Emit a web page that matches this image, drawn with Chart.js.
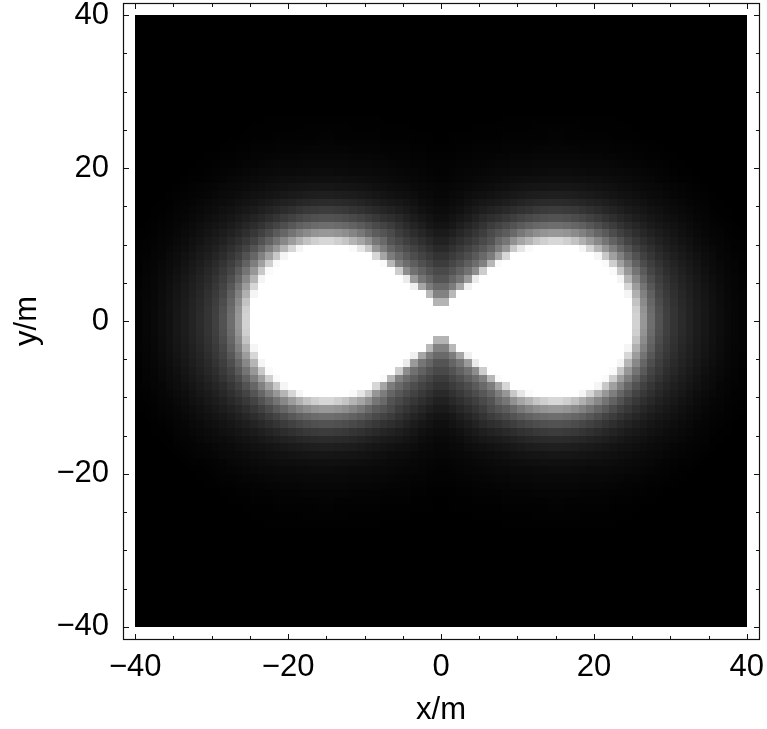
<!DOCTYPE html>
<html>
<head>
<meta charset="utf-8">
<script src="https://cdn.jsdelivr.net/npm/chart.js@4.4.1/dist/chart.umd.min.js"></script>
<style>
  html, body { margin: 0; padding: 0; background: #fff; }
  canvas { display: block; }
</style>
</head>
<body>
<canvas id="densityChart" width="767" height="729"></canvas>
<script>
// cell centres in metres (1 m cells)
const xCenters = [-39.5,-38.5,-37.5,-36.5,-35.5,-34.5,-33.5,-32.5,-31.5,-30.5,-29.5,-28.5,-27.5,-26.5,-25.5,-24.5,-23.5,-22.5,-21.5,-20.5,
                  -19.5,-18.5,-17.5,-16.5,-15.5,-14.5,-13.5,-12.5,-11.5,-10.5,-9.5,-8.5,-7.5,-6.5,-5.5,-4.5,-3.5,-2.5,-1.5,-0.5,
                  0.5,1.5,2.5,3.5,4.5,5.5,6.5,7.5,8.5,9.5,10.5,11.5,12.5,13.5,14.5,15.5,16.5,17.5,18.5,19.5,
                  20.5,21.5,22.5,23.5,24.5,25.5,26.5,27.5,28.5,29.5,30.5,31.5,32.5,33.5,34.5,35.5,36.5,37.5,38.5,39.5];
const yCenters = [39.5,38.5,37.5,36.5,35.5,34.5,33.5,32.5,31.5,30.5,29.5,28.5,27.5,26.5,25.5,24.5,23.5,22.5,21.5,20.5,
                  19.5,18.5,17.5,16.5,15.5,14.5,13.5,12.5,11.5,10.5,9.5,8.5,7.5,6.5,5.5,4.5,3.5,2.5,1.5,0.5,
                  -0.5,-1.5,-2.5,-3.5,-4.5,-5.5,-6.5,-7.5,-8.5,-9.5,-10.5,-11.5,-12.5,-13.5,-14.5,-15.5,-16.5,-17.5,-18.5,-19.5,
                  -20.5,-21.5,-22.5,-23.5,-24.5,-25.5,-26.5,-27.5,-28.5,-29.5,-30.5,-31.5,-32.5,-33.5,-34.5,-35.5,-36.5,-37.5,-38.5,-39.5];
const cellSize = 1;

// grey level of every cell, 0 = black .. 255 = white; one row per yCenters entry
const intensity = [
[0,0,0,0,0,0,0,0,0,0,0,0,0,0,0,0,0,0,0,0,0,0,0,0,0,0,0,0,0,0,0,0,0,0,0,0,0,0,0,0,0,0,0,0,0,0,0,0,0,0,0,0,0,0,0,0,0,0,0,0,0,0,0,0,0,0,0,0,0,0,0,0,0,0,0,0,0,0,0,0],
[0,0,0,0,0,0,0,0,0,0,0,0,0,0,0,0,0,0,0,0,0,0,0,0,0,0,0,0,0,0,0,0,0,0,0,0,0,0,0,0,0,0,0,0,0,0,0,0,0,0,0,0,0,0,0,0,0,0,0,0,0,0,0,0,0,0,0,0,0,0,0,0,0,0,0,0,0,0,0,0],
[0,0,0,0,0,0,0,0,0,0,0,0,0,0,0,0,0,0,0,0,0,0,0,0,0,0,0,0,0,0,0,0,0,0,0,0,0,0,0,0,0,0,0,0,0,0,0,0,0,0,0,0,0,0,0,0,0,0,0,0,0,0,0,0,0,0,0,0,0,0,0,0,0,0,0,0,0,0,0,0],
[0,0,0,0,0,0,0,0,0,0,0,0,0,0,0,0,0,0,0,0,0,0,0,0,0,0,0,0,0,0,0,0,0,0,0,0,0,0,0,0,0,0,0,0,0,0,0,0,0,0,0,0,0,0,0,0,0,0,0,0,0,0,0,0,0,0,0,0,0,0,0,0,0,0,0,0,0,0,0,0],
[0,0,0,0,0,0,0,0,0,0,0,0,0,0,0,0,0,0,0,0,0,0,0,0,0,0,0,0,0,0,0,0,0,0,0,0,0,0,0,0,0,0,0,0,0,0,0,0,0,0,0,0,0,0,0,0,0,0,0,0,0,0,0,0,0,0,0,0,0,0,0,0,0,0,0,0,0,0,0,0],
[0,0,0,0,0,0,0,0,0,0,0,0,0,0,0,0,0,0,0,0,0,0,0,0,0,0,0,0,0,0,0,0,0,0,0,0,0,0,0,0,0,0,0,0,0,0,0,0,0,0,0,0,0,0,0,0,0,0,0,0,0,0,0,0,0,0,0,0,0,0,0,0,0,0,0,0,0,0,0,0],
[0,0,0,0,0,0,0,0,0,0,0,0,0,0,0,0,0,0,0,0,0,0,0,0,0,0,0,0,0,0,0,0,0,0,0,0,0,0,0,0,0,0,0,0,0,0,0,0,0,0,0,0,0,0,0,0,0,0,0,0,0,0,0,0,0,0,0,0,0,0,0,0,0,0,0,0,0,0,0,0],
[0,0,0,0,0,0,0,0,0,0,0,0,0,0,0,0,0,0,0,0,0,0,0,0,0,0,0,0,0,0,0,0,0,0,0,0,0,0,0,0,0,0,0,0,0,0,0,0,0,0,0,0,0,0,0,0,0,0,0,0,0,0,0,0,0,0,0,0,0,0,0,0,0,0,0,0,0,0,0,0],
[0,0,0,0,0,0,0,0,0,0,0,0,0,0,0,0,0,0,0,0,0,0,0,0,0,0,0,0,0,0,0,0,0,0,0,0,0,0,0,0,0,0,0,0,0,0,0,0,0,0,0,0,0,0,0,0,0,0,0,0,0,0,0,0,0,0,0,0,0,0,0,0,0,0,0,0,0,0,0,0],
[0,0,0,0,0,0,0,0,0,0,0,0,0,0,0,0,0,0,0,0,0,0,0,0,0,0,0,0,0,0,0,0,0,0,0,0,0,0,0,0,0,0,0,0,0,0,0,0,0,0,0,0,0,0,0,0,0,0,0,0,0,0,0,0,0,0,0,0,0,0,0,0,0,0,0,0,0,0,0,0],
[0,0,0,0,0,0,0,0,0,0,0,0,0,0,0,0,0,0,0,0,0,0,0,0,0,0,0,0,0,0,0,0,0,0,0,0,0,0,0,0,0,0,0,0,0,0,0,0,0,0,0,0,0,0,0,0,0,0,0,0,0,0,0,0,0,0,0,0,0,0,0,0,0,0,0,0,0,0,0,0],
[0,0,0,0,0,0,0,0,0,0,0,0,0,0,0,0,0,0,0,0,0,0,0,0,0,0,0,0,0,0,0,0,0,0,0,0,0,0,0,0,0,0,0,0,0,0,0,0,0,0,0,0,0,0,0,0,0,0,0,0,0,0,0,0,0,0,0,0,0,0,0,0,0,0,0,0,0,0,0,0],
[0,0,0,0,0,0,0,0,0,0,0,0,0,0,0,0,0,0,0,0,0,0,0,0,0,0,0,0,0,0,0,0,0,0,0,0,0,0,0,0,0,0,0,0,0,0,0,0,0,0,0,0,0,0,0,0,0,0,0,0,0,0,0,0,0,0,0,0,0,0,0,0,0,0,0,0,0,0,0,0],
[0,0,0,0,0,0,0,0,0,0,0,0,0,0,0,0,0,1,1,1,1,1,1,1,1,1,1,1,1,1,1,1,0,0,0,0,0,0,0,0,0,0,0,0,0,0,0,0,1,1,1,1,1,1,1,1,1,1,1,1,1,1,1,0,0,0,0,0,0,0,0,0,0,0,0,0,0,0,0,0],
[0,0,0,0,0,0,0,0,0,0,0,0,0,0,0,1,1,1,1,1,1,1,2,2,2,2,2,2,1,1,1,1,1,1,1,1,0,0,0,0,0,0,0,0,1,1,1,1,1,1,1,1,2,2,2,2,2,2,1,1,1,1,1,1,1,0,0,0,0,0,0,0,0,0,0,0,0,0,0,0],
[0,0,0,0,0,0,0,0,0,0,0,0,0,0,1,1,1,1,2,2,2,2,2,2,3,3,2,2,2,2,2,2,1,1,1,1,1,1,1,0,0,1,1,1,1,1,1,1,2,2,2,2,2,2,3,3,2,2,2,2,2,2,1,1,1,1,0,0,0,0,0,0,0,0,0,0,0,0,0,0],
[0,0,0,0,0,0,0,0,0,0,0,0,1,1,1,2,2,2,3,3,3,3,3,3,4,4,3,3,3,3,3,3,2,2,2,2,1,1,1,0,0,1,1,1,2,2,2,2,3,3,3,3,3,3,4,4,3,3,3,3,3,3,2,2,2,1,1,1,0,0,0,0,0,0,0,0,0,0,0,0],
[0,0,0,0,0,0,0,0,0,0,0,1,1,2,2,3,3,3,4,4,4,4,5,5,5,5,5,5,4,4,4,4,3,3,3,3,2,2,1,1,1,1,2,2,3,3,3,3,4,4,4,4,5,5,5,5,5,5,4,4,4,4,3,3,3,2,2,1,1,0,0,0,0,0,0,0,0,0,0,0],
[0,0,0,0,0,0,0,0,0,1,1,2,2,3,3,4,4,5,5,6,6,6,7,7,7,7,7,7,6,6,6,5,5,4,4,4,3,3,2,2,2,2,3,3,4,4,4,5,5,6,6,6,7,7,7,7,7,7,6,6,6,5,5,4,4,3,3,2,2,1,1,0,0,0,0,0,0,0,0,0],
[0,0,0,0,0,0,0,0,1,1,2,3,3,4,5,5,6,7,8,8,8,8,9,9,9,9,9,9,8,8,8,7,7,6,5,5,4,4,3,3,3,3,4,4,5,5,6,7,7,8,8,8,9,9,9,9,9,9,8,8,8,8,7,6,5,5,4,3,3,2,1,1,0,0,0,0,0,0,0,0],
[0,0,0,0,0,0,0,1,1,2,3,4,5,6,7,8,9,9,10,10,10,11,11,12,12,12,11,11,10,10,10,9,9,8,7,6,6,5,4,3,3,4,5,6,6,7,8,9,9,10,10,10,11,11,12,12,12,11,11,10,10,10,9,9,8,7,6,5,4,3,2,1,1,0,0,0,0,0,0,0],
[0,0,0,0,0,0,1,2,2,3,4,5,7,8,9,10,11,12,13,14,14,15,15,16,16,16,16,15,15,14,13,12,11,10,9,8,7,6,5,4,4,5,6,7,8,9,10,11,12,13,14,15,15,16,16,16,16,15,15,14,14,13,12,11,10,9,8,7,5,4,3,2,2,1,0,0,0,0,0,0],
[0,0,0,0,0,1,2,3,4,5,6,8,9,10,11,13,14,16,17,18,19,20,21,22,22,22,21,21,20,19,18,16,15,13,12,11,9,8,7,6,6,7,8,9,11,12,13,15,16,18,19,20,21,21,22,22,22,21,20,19,18,17,16,14,13,11,10,9,8,6,5,4,3,2,1,0,0,0,0,0],
[0,0,0,0,1,2,3,4,5,6,8,10,11,13,15,17,18,20,22,24,26,27,29,30,31,31,30,29,28,26,24,22,20,18,16,15,13,10,9,7,7,9,10,13,15,16,18,20,22,24,26,28,29,30,31,31,30,29,27,26,24,22,20,18,17,15,13,11,10,8,6,5,4,3,2,1,0,0,0,0],
[0,0,0,1,1,3,4,5,7,9,11,12,14,17,19,21,24,27,30,33,35,38,40,42,43,43,42,41,39,36,33,30,27,25,23,20,17,13,11,9,9,11,13,17,20,23,25,27,30,33,36,39,41,42,43,43,42,40,38,35,33,30,27,24,21,19,17,14,12,11,9,7,5,4,3,1,1,0,0,0],
[0,0,1,1,2,4,5,7,9,11,13,16,18,21,24,27,31,35,39,44,48,52,56,58,60,60,58,56,52,49,45,41,37,34,30,26,22,17,14,12,12,14,17,22,26,30,34,37,41,45,49,52,56,58,60,60,58,56,52,48,44,39,35,31,27,24,21,18,16,13,11,9,7,5,4,2,1,1,0,0],
[0,0,1,2,3,5,6,9,11,14,16,19,22,26,30,35,40,46,52,59,65,71,76,80,82,82,80,77,73,68,62,56,50,46,41,34,28,23,19,15,15,19,23,28,34,41,46,50,56,62,68,73,77,80,82,82,80,76,71,65,59,52,46,40,35,30,26,22,19,16,14,11,9,6,5,3,2,1,0,0],
[0,1,2,3,4,6,8,11,14,17,20,23,27,32,38,44,51,60,68,78,87,96,102,107,110,110,107,104,98,91,83,74,67,60,51,43,36,30,23,20,20,23,30,36,43,51,60,67,74,83,91,98,104,107,110,110,107,102,96,87,78,68,60,51,44,38,32,27,23,20,17,14,11,8,6,4,3,2,1,0],
[1,1,2,4,5,7,10,13,16,20,24,28,33,39,46,55,64,76,90,102,116,129,139,148,152,152,148,142,132,120,105,92,84,74,61,53,45,38,31,26,26,31,38,45,53,61,74,84,92,105,120,132,142,148,152,152,148,139,129,116,102,90,76,64,55,46,39,33,28,24,20,16,13,10,7,5,4,2,1,1],
[1,2,3,5,6,9,12,16,19,24,28,33,40,47,56,67,82,98,116,136,156,176,194,207,215,215,207,197,180,165,145,118,105,83,73,63,55,47,40,33,33,40,47,55,63,73,83,105,118,145,165,180,197,207,215,215,207,194,176,156,136,116,98,82,67,56,47,40,33,28,24,19,16,12,9,6,5,3,2,1],
[1,2,4,6,8,11,14,18,23,27,32,39,47,56,67,84,102,126,151,181,214,245,255,255,255,255,255,255,250,230,200,150,125,101,87,76,66,57,49,41,41,49,57,66,76,87,101,125,150,200,230,250,255,255,255,255,255,255,245,214,181,151,126,102,84,67,56,47,39,32,27,23,18,14,11,8,6,4,2,1],
[2,3,5,6,10,13,17,21,26,31,37,44,54,65,82,102,129,160,200,245,255,255,255,255,255,255,255,255,255,255,255,215,165,124,105,90,77,67,59,51,51,59,67,77,90,105,124,165,215,255,255,255,255,255,255,255,255,255,255,255,245,200,160,129,102,82,65,54,44,37,31,26,21,17,13,10,6,5,3,2],
[2,4,5,8,11,14,19,24,29,35,42,51,62,76,98,126,160,207,250,255,255,255,255,255,255,255,255,255,255,255,255,255,250,183,129,109,94,80,70,60,60,70,80,94,109,129,183,250,255,255,255,255,255,255,255,255,255,255,255,255,255,250,207,160,126,98,76,62,51,42,35,29,24,19,14,11,8,5,4,2],
[2,4,6,9,12,16,21,26,32,39,46,57,69,90,116,151,200,250,255,255,255,255,255,255,255,255,255,255,255,255,255,255,255,255,205,141,113,97,83,73,73,83,97,113,141,205,255,255,255,255,255,255,255,255,255,255,255,255,255,255,255,255,250,200,151,116,90,69,57,46,39,32,26,21,16,12,9,6,4,2],
[3,5,7,10,14,18,23,29,35,42,51,62,78,102,136,181,245,255,255,255,255,255,255,255,255,255,255,255,255,255,255,255,255,255,255,235,154,118,101,84,84,101,118,154,235,255,255,255,255,255,255,255,255,255,255,255,255,255,255,255,255,255,255,245,181,136,102,78,62,51,42,35,29,23,18,14,10,7,5,3],
[3,5,7,11,15,20,25,31,37,45,55,67,87,116,156,214,255,255,255,255,255,255,255,255,255,255,255,255,255,255,255,255,255,255,255,255,240,166,124,105,105,124,166,240,255,255,255,255,255,255,255,255,255,255,255,255,255,255,255,255,255,255,255,255,214,156,116,87,67,55,45,37,31,25,20,15,11,7,5,3],
[4,5,8,12,16,21,26,32,39,48,58,71,96,129,176,245,255,255,255,255,255,255,255,255,255,255,255,255,255,255,255,255,255,255,255,255,255,255,185,130,130,185,255,255,255,255,255,255,255,255,255,255,255,255,255,255,255,255,255,255,255,255,255,255,245,176,129,96,71,58,48,39,32,26,21,16,12,8,5,4],
[4,6,8,12,17,22,27,34,41,50,61,76,102,139,195,255,255,255,255,255,255,255,255,255,255,255,255,255,255,255,255,255,255,255,255,255,255,255,255,180,180,255,255,255,255,255,255,255,255,255,255,255,255,255,255,255,255,255,255,255,255,255,255,255,255,195,139,102,76,61,50,41,34,27,22,17,12,8,6,4],
[4,6,9,13,17,23,28,35,42,52,63,80,107,147,207,255,255,255,255,255,255,255,255,255,255,255,255,255,255,255,255,255,255,255,255,255,255,255,255,255,255,255,255,255,255,255,255,255,255,255,255,255,255,255,255,255,255,255,255,255,255,255,255,255,255,207,147,107,80,63,52,42,35,28,23,17,13,9,6,4],
[4,6,9,13,17,23,28,35,43,52,64,82,110,151,210,255,255,255,255,255,255,255,255,255,255,255,255,255,255,255,255,255,255,255,255,255,255,255,255,255,255,255,255,255,255,255,255,255,255,255,255,255,255,255,255,255,255,255,255,255,255,255,255,255,255,210,151,110,82,64,52,43,35,28,23,17,13,9,6,4],
[4,6,9,13,17,23,28,35,43,52,64,82,110,151,210,255,255,255,255,255,255,255,255,255,255,255,255,255,255,255,255,255,255,255,255,255,255,255,255,255,255,255,255,255,255,255,255,255,255,255,255,255,255,255,255,255,255,255,255,255,255,255,255,255,255,210,151,110,82,64,52,43,35,28,23,17,13,9,6,4],
[4,6,9,13,17,23,28,35,42,52,63,80,107,147,207,255,255,255,255,255,255,255,255,255,255,255,255,255,255,255,255,255,255,255,255,255,255,255,255,255,255,255,255,255,255,255,255,255,255,255,255,255,255,255,255,255,255,255,255,255,255,255,255,255,255,207,147,107,80,63,52,42,35,28,23,17,13,9,6,4],
[4,6,8,12,17,22,27,34,41,50,61,76,102,139,195,255,255,255,255,255,255,255,255,255,255,255,255,255,255,255,255,255,255,255,255,255,255,255,255,180,180,255,255,255,255,255,255,255,255,255,255,255,255,255,255,255,255,255,255,255,255,255,255,255,255,195,139,102,76,61,50,41,34,27,22,17,12,8,6,4],
[4,5,8,12,16,21,26,32,39,48,58,71,96,129,176,245,255,255,255,255,255,255,255,255,255,255,255,255,255,255,255,255,255,255,255,255,255,255,185,130,130,185,255,255,255,255,255,255,255,255,255,255,255,255,255,255,255,255,255,255,255,255,255,255,245,176,129,96,71,58,48,39,32,26,21,16,12,8,5,4],
[3,5,7,11,15,20,25,31,37,45,55,67,87,116,156,214,255,255,255,255,255,255,255,255,255,255,255,255,255,255,255,255,255,255,255,255,240,166,124,105,105,124,166,240,255,255,255,255,255,255,255,255,255,255,255,255,255,255,255,255,255,255,255,255,214,156,116,87,67,55,45,37,31,25,20,15,11,7,5,3],
[3,5,7,10,14,18,23,29,35,42,51,62,78,102,136,181,245,255,255,255,255,255,255,255,255,255,255,255,255,255,255,255,255,255,255,235,154,118,101,84,84,101,118,154,235,255,255,255,255,255,255,255,255,255,255,255,255,255,255,255,255,255,255,245,181,136,102,78,62,51,42,35,29,23,18,14,10,7,5,3],
[2,4,6,9,12,16,21,26,32,39,46,57,69,90,116,151,200,250,255,255,255,255,255,255,255,255,255,255,255,255,255,255,255,255,205,141,113,97,83,73,73,83,97,113,141,205,255,255,255,255,255,255,255,255,255,255,255,255,255,255,255,255,250,200,151,116,90,69,57,46,39,32,26,21,16,12,9,6,4,2],
[2,4,5,8,11,14,19,24,29,35,42,51,62,76,98,126,160,207,250,255,255,255,255,255,255,255,255,255,255,255,255,255,250,183,129,109,94,80,70,60,60,70,80,94,109,129,183,250,255,255,255,255,255,255,255,255,255,255,255,255,255,250,207,160,126,98,76,62,51,42,35,29,24,19,14,11,8,5,4,2],
[2,3,5,6,10,13,17,21,26,31,37,44,54,65,82,102,129,160,200,245,255,255,255,255,255,255,255,255,255,255,255,215,165,124,105,90,77,67,59,51,51,59,67,77,90,105,124,165,215,255,255,255,255,255,255,255,255,255,255,255,245,200,160,129,102,82,65,54,44,37,31,26,21,17,13,10,6,5,3,2],
[1,2,4,6,8,11,14,18,23,27,32,39,47,56,67,84,102,126,151,181,214,245,255,255,255,255,255,255,250,230,200,150,125,101,87,76,66,57,49,41,41,49,57,66,76,87,101,125,150,200,230,250,255,255,255,255,255,255,245,214,181,151,126,102,84,67,56,47,39,32,27,23,18,14,11,8,6,4,2,1],
[1,2,3,5,6,9,12,16,19,24,28,33,40,47,56,67,82,98,116,136,156,176,194,207,215,215,207,197,180,165,145,118,105,83,73,63,55,47,40,33,33,40,47,55,63,73,83,105,118,145,165,180,197,207,215,215,207,194,176,156,136,116,98,82,67,56,47,40,33,28,24,19,16,12,9,6,5,3,2,1],
[1,1,2,4,5,7,10,13,16,20,24,28,33,39,46,55,64,76,90,102,116,129,139,148,152,152,148,142,132,120,105,92,84,74,61,53,45,38,31,26,26,31,38,45,53,61,74,84,92,105,120,132,142,148,152,152,148,139,129,116,102,90,76,64,55,46,39,33,28,24,20,16,13,10,7,5,4,2,1,1],
[0,1,2,3,4,6,8,11,14,17,20,23,27,32,38,44,51,60,68,78,87,96,102,107,110,110,107,104,98,91,83,74,67,60,51,43,36,30,23,20,20,23,30,36,43,51,60,67,74,83,91,98,104,107,110,110,107,102,96,87,78,68,60,51,44,38,32,27,23,20,17,14,11,8,6,4,3,2,1,0],
[0,0,1,2,3,5,6,9,11,14,16,19,22,26,30,35,40,46,52,59,65,71,76,80,82,82,80,77,73,68,62,56,50,46,41,34,28,23,19,15,15,19,23,28,34,41,46,50,56,62,68,73,77,80,82,82,80,76,71,65,59,52,46,40,35,30,26,22,19,16,14,11,9,6,5,3,2,1,0,0],
[0,0,1,1,2,4,5,7,9,11,13,16,18,21,24,27,31,35,39,44,48,52,56,58,60,60,58,56,52,49,45,41,37,34,30,26,22,17,14,12,12,14,17,22,26,30,34,37,41,45,49,52,56,58,60,60,58,56,52,48,44,39,35,31,27,24,21,18,16,13,11,9,7,5,4,2,1,1,0,0],
[0,0,0,1,1,3,4,5,7,9,11,12,14,17,19,21,24,27,30,33,35,38,40,42,43,43,42,41,39,36,33,30,27,25,23,20,17,13,11,9,9,11,13,17,20,23,25,27,30,33,36,39,41,42,43,43,42,40,38,35,33,30,27,24,21,19,17,14,12,11,9,7,5,4,3,1,1,0,0,0],
[0,0,0,0,1,2,3,4,5,6,8,10,11,13,15,17,18,20,22,24,26,27,29,30,31,31,30,29,28,26,24,22,20,18,16,15,13,10,9,7,7,9,10,13,15,16,18,20,22,24,26,28,29,30,31,31,30,29,27,26,24,22,20,18,17,15,13,11,10,8,6,5,4,3,2,1,0,0,0,0],
[0,0,0,0,0,1,2,3,4,5,6,8,9,10,11,13,14,16,17,18,19,20,21,22,22,22,21,21,20,19,18,16,15,13,12,11,9,8,7,6,6,7,8,9,11,12,13,15,16,18,19,20,21,21,22,22,22,21,20,19,18,17,16,14,13,11,10,9,8,6,5,4,3,2,1,0,0,0,0,0],
[0,0,0,0,0,0,1,2,2,3,4,5,7,8,9,10,11,12,13,14,14,15,15,16,16,16,16,15,15,14,13,12,11,10,9,8,7,6,5,4,4,5,6,7,8,9,10,11,12,13,14,15,15,16,16,16,16,15,15,14,14,13,12,11,10,9,8,7,5,4,3,2,2,1,0,0,0,0,0,0],
[0,0,0,0,0,0,0,1,1,2,3,4,5,6,7,8,9,9,10,10,10,11,11,12,12,12,11,11,10,10,10,9,9,8,7,6,6,5,4,3,3,4,5,6,6,7,8,9,9,10,10,10,11,11,12,12,12,11,11,10,10,10,9,9,8,7,6,5,4,3,2,1,1,0,0,0,0,0,0,0],
[0,0,0,0,0,0,0,0,1,1,2,3,3,4,5,5,6,7,8,8,8,8,9,9,9,9,9,9,8,8,8,7,7,6,5,5,4,4,3,3,3,3,4,4,5,5,6,7,7,8,8,8,9,9,9,9,9,9,8,8,8,8,7,6,5,5,4,3,3,2,1,1,0,0,0,0,0,0,0,0],
[0,0,0,0,0,0,0,0,0,1,1,2,2,3,3,4,4,5,5,6,6,6,7,7,7,7,7,7,6,6,6,5,5,4,4,4,3,3,2,2,2,2,3,3,4,4,4,5,5,6,6,6,7,7,7,7,7,7,6,6,6,5,5,4,4,3,3,2,2,1,1,0,0,0,0,0,0,0,0,0],
[0,0,0,0,0,0,0,0,0,0,0,1,1,2,2,3,3,3,4,4,4,4,5,5,5,5,5,5,4,4,4,4,3,3,3,3,2,2,1,1,1,1,2,2,3,3,3,3,4,4,4,4,5,5,5,5,5,5,4,4,4,4,3,3,3,2,2,1,1,0,0,0,0,0,0,0,0,0,0,0],
[0,0,0,0,0,0,0,0,0,0,0,0,1,1,1,2,2,2,3,3,3,3,3,3,4,4,3,3,3,3,3,3,2,2,2,2,1,1,1,0,0,1,1,1,2,2,2,2,3,3,3,3,3,3,4,4,3,3,3,3,3,3,2,2,2,1,1,1,0,0,0,0,0,0,0,0,0,0,0,0],
[0,0,0,0,0,0,0,0,0,0,0,0,0,0,1,1,1,1,2,2,2,2,2,2,3,3,2,2,2,2,2,2,1,1,1,1,1,1,1,0,0,1,1,1,1,1,1,1,2,2,2,2,2,2,3,3,2,2,2,2,2,2,1,1,1,1,0,0,0,0,0,0,0,0,0,0,0,0,0,0],
[0,0,0,0,0,0,0,0,0,0,0,0,0,0,0,1,1,1,1,1,1,1,2,2,2,2,2,2,1,1,1,1,1,1,1,1,0,0,0,0,0,0,0,0,1,1,1,1,1,1,1,1,2,2,2,2,2,2,1,1,1,1,1,1,1,0,0,0,0,0,0,0,0,0,0,0,0,0,0,0],
[0,0,0,0,0,0,0,0,0,0,0,0,0,0,0,0,0,1,1,1,1,1,1,1,1,1,1,1,1,1,1,1,0,0,0,0,0,0,0,0,0,0,0,0,0,0,0,0,1,1,1,1,1,1,1,1,1,1,1,1,1,1,1,0,0,0,0,0,0,0,0,0,0,0,0,0,0,0,0,0],
[0,0,0,0,0,0,0,0,0,0,0,0,0,0,0,0,0,0,0,0,0,0,0,0,0,0,0,0,0,0,0,0,0,0,0,0,0,0,0,0,0,0,0,0,0,0,0,0,0,0,0,0,0,0,0,0,0,0,0,0,0,0,0,0,0,0,0,0,0,0,0,0,0,0,0,0,0,0,0,0],
[0,0,0,0,0,0,0,0,0,0,0,0,0,0,0,0,0,0,0,0,0,0,0,0,0,0,0,0,0,0,0,0,0,0,0,0,0,0,0,0,0,0,0,0,0,0,0,0,0,0,0,0,0,0,0,0,0,0,0,0,0,0,0,0,0,0,0,0,0,0,0,0,0,0,0,0,0,0,0,0],
[0,0,0,0,0,0,0,0,0,0,0,0,0,0,0,0,0,0,0,0,0,0,0,0,0,0,0,0,0,0,0,0,0,0,0,0,0,0,0,0,0,0,0,0,0,0,0,0,0,0,0,0,0,0,0,0,0,0,0,0,0,0,0,0,0,0,0,0,0,0,0,0,0,0,0,0,0,0,0,0],
[0,0,0,0,0,0,0,0,0,0,0,0,0,0,0,0,0,0,0,0,0,0,0,0,0,0,0,0,0,0,0,0,0,0,0,0,0,0,0,0,0,0,0,0,0,0,0,0,0,0,0,0,0,0,0,0,0,0,0,0,0,0,0,0,0,0,0,0,0,0,0,0,0,0,0,0,0,0,0,0],
[0,0,0,0,0,0,0,0,0,0,0,0,0,0,0,0,0,0,0,0,0,0,0,0,0,0,0,0,0,0,0,0,0,0,0,0,0,0,0,0,0,0,0,0,0,0,0,0,0,0,0,0,0,0,0,0,0,0,0,0,0,0,0,0,0,0,0,0,0,0,0,0,0,0,0,0,0,0,0,0],
[0,0,0,0,0,0,0,0,0,0,0,0,0,0,0,0,0,0,0,0,0,0,0,0,0,0,0,0,0,0,0,0,0,0,0,0,0,0,0,0,0,0,0,0,0,0,0,0,0,0,0,0,0,0,0,0,0,0,0,0,0,0,0,0,0,0,0,0,0,0,0,0,0,0,0,0,0,0,0,0],
[0,0,0,0,0,0,0,0,0,0,0,0,0,0,0,0,0,0,0,0,0,0,0,0,0,0,0,0,0,0,0,0,0,0,0,0,0,0,0,0,0,0,0,0,0,0,0,0,0,0,0,0,0,0,0,0,0,0,0,0,0,0,0,0,0,0,0,0,0,0,0,0,0,0,0,0,0,0,0,0],
[0,0,0,0,0,0,0,0,0,0,0,0,0,0,0,0,0,0,0,0,0,0,0,0,0,0,0,0,0,0,0,0,0,0,0,0,0,0,0,0,0,0,0,0,0,0,0,0,0,0,0,0,0,0,0,0,0,0,0,0,0,0,0,0,0,0,0,0,0,0,0,0,0,0,0,0,0,0,0,0],
[0,0,0,0,0,0,0,0,0,0,0,0,0,0,0,0,0,0,0,0,0,0,0,0,0,0,0,0,0,0,0,0,0,0,0,0,0,0,0,0,0,0,0,0,0,0,0,0,0,0,0,0,0,0,0,0,0,0,0,0,0,0,0,0,0,0,0,0,0,0,0,0,0,0,0,0,0,0,0,0],
[0,0,0,0,0,0,0,0,0,0,0,0,0,0,0,0,0,0,0,0,0,0,0,0,0,0,0,0,0,0,0,0,0,0,0,0,0,0,0,0,0,0,0,0,0,0,0,0,0,0,0,0,0,0,0,0,0,0,0,0,0,0,0,0,0,0,0,0,0,0,0,0,0,0,0,0,0,0,0,0],
[0,0,0,0,0,0,0,0,0,0,0,0,0,0,0,0,0,0,0,0,0,0,0,0,0,0,0,0,0,0,0,0,0,0,0,0,0,0,0,0,0,0,0,0,0,0,0,0,0,0,0,0,0,0,0,0,0,0,0,0,0,0,0,0,0,0,0,0,0,0,0,0,0,0,0,0,0,0,0,0],
[0,0,0,0,0,0,0,0,0,0,0,0,0,0,0,0,0,0,0,0,0,0,0,0,0,0,0,0,0,0,0,0,0,0,0,0,0,0,0,0,0,0,0,0,0,0,0,0,0,0,0,0,0,0,0,0,0,0,0,0,0,0,0,0,0,0,0,0,0,0,0,0,0,0,0,0,0,0,0,0],
[0,0,0,0,0,0,0,0,0,0,0,0,0,0,0,0,0,0,0,0,0,0,0,0,0,0,0,0,0,0,0,0,0,0,0,0,0,0,0,0,0,0,0,0,0,0,0,0,0,0,0,0,0,0,0,0,0,0,0,0,0,0,0,0,0,0,0,0,0,0,0,0,0,0,0,0,0,0,0,0],
[0,0,0,0,0,0,0,0,0,0,0,0,0,0,0,0,0,0,0,0,0,0,0,0,0,0,0,0,0,0,0,0,0,0,0,0,0,0,0,0,0,0,0,0,0,0,0,0,0,0,0,0,0,0,0,0,0,0,0,0,0,0,0,0,0,0,0,0,0,0,0,0,0,0,0,0,0,0,0,0]
];

const majorTicks = [-40, -20, 0, 20, 40];
const minorTicks = [-35, -30, -25, -15, -10, -5, 5, 10, 15, 25, 30, 35];

const fontFamily = "'Liberation Sans', Arial, Helvetica, sans-serif";

function tickLabel(value) {
    return (value < 0 ? '\u2212' : '') + Math.abs(value);
}

// paints the grey cells using the chart scales
const densityPlugin = {
    id: 'density',
    beforeDatasetsDraw(chart) {
        const ctx = chart.ctx;
        const xs = chart.scales.x;
        const ys = chart.scales.y;
        ctx.save();
        for (let j = 0; j < yCenters.length; j++) {
            const top = Math.round(ys.getPixelForValue(yCenters[j] + cellSize / 2));
            const bottom = Math.round(ys.getPixelForValue(yCenters[j] - cellSize / 2));
            for (let i = 0; i < xCenters.length; i++) {
                const left = Math.round(xs.getPixelForValue(xCenters[i] - cellSize / 2));
                const right = Math.round(xs.getPixelForValue(xCenters[i] + cellSize / 2));
                const v = intensity[j][i] || 0;
                ctx.fillStyle = 'rgb(' + v + ',' + v + ',' + v + ')';
                ctx.fillRect(left, top, right - left, bottom - top);
            }
        }
        ctx.restore();
    }
};

// frame with inward ticks on all four sides
const framePlugin = {
    id: 'frame',
    afterDraw(chart) {
        const ctx = chart.ctx;
        const a = chart.chartArea;
        const xs = chart.scales.x;
        const ys = chart.scales.y;
        ctx.save();
        ctx.strokeStyle = '#111';
        ctx.lineWidth = 1.2;
        ctx.strokeRect(a.left + 0.5, a.top + 0.5, a.right - a.left, a.bottom - a.top);

        ctx.lineWidth = 1;
        ctx.beginPath();
        const all = majorTicks.map(v => [v, 5]).concat(minorTicks.map(v => [v, 3]));
        all.forEach(([v, len]) => {
            const px = Math.round(xs.getPixelForValue(v)) + 0.5;
            ctx.moveTo(px, a.bottom);
            ctx.lineTo(px, a.bottom - len);
            ctx.moveTo(px, a.top + 1);
            ctx.lineTo(px, a.top + 1 + len);
            const py = Math.round(ys.getPixelForValue(v)) + 0.5;
            ctx.moveTo(a.left + 1, py);
            ctx.lineTo(a.left + 1 + len, py);
            ctx.moveTo(a.right, py);
            ctx.lineTo(a.right - len, py);
        });
        ctx.stroke();
        ctx.restore();
    }
};

const axisFont = { family: fontFamily, size: 31 };

new Chart(document.getElementById('densityChart'), {
    type: 'scatter',
    data: { datasets: [{ data: [], pointRadius: 0 }] },
    options: {
        responsive: false,
        devicePixelRatio: 1,
        animation: false,
        layout: { padding: { top: 3, right: 8, bottom: 0, left: 0 } },
        plugins: { legend: { display: false }, tooltip: { enabled: false } },
        scales: {
            x: {
                type: 'linear',
                min: -41.6,
                max: 41.6,
                grid: { display: false, drawTicks: false },
                border: { display: false },
                ticks: { font: axisFont, color: '#000', padding: 10, autoSkip: false, maxRotation: 0, includeBounds: false, callback: tickLabel },
                afterBuildTicks: s => { s.ticks = majorTicks.map(v => ({ value: v })); },
                afterFit: s => { s.height = 90; s.paddingLeft = 0; s.paddingRight = 0; },
                title: { display: true, text: 'x/m', font: axisFont, color: '#000', padding: { top: 0, bottom: 0 } }
            },
            y: {
                type: 'linear',
                min: -41.6,
                max: 41.6,
                grid: { display: false, drawTicks: false },
                border: { display: false },
                ticks: { font: axisFont, color: '#000', padding: 14, autoSkip: false, includeBounds: false, callback: tickLabel },
                afterBuildTicks: s => { s.ticks = majorTicks.map(v => ({ value: v })); },
                afterFit: s => { s.width = 123; s.paddingTop = 0; s.paddingBottom = 0; },
                title: { display: true, text: 'y/m', font: axisFont, color: '#000', padding: { top: 9, bottom: 0 } }
            }
        }
    },
    plugins: [densityPlugin, framePlugin]
});
</script>
</body>
</html>
